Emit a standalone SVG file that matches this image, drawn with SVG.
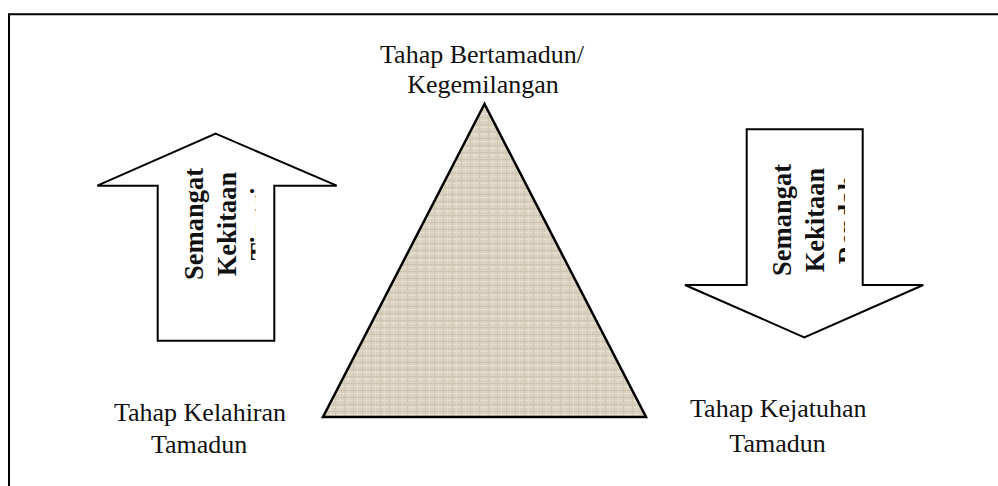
<svg xmlns="http://www.w3.org/2000/svg" width="998" height="486" viewBox="0 0 998 486">
<style>
.lbl{font-family:"Liberation Serif","Times New Roman",serif;font-size:26px;fill:#111;text-anchor:middle}
.arrtxt{font-family:"Liberation Serif","Times New Roman",serif;font-size:26.5px;font-weight:bold;fill:#111;text-anchor:middle}
.arrow{fill:#fff;stroke:#000;stroke-width:2;stroke-linejoin:miter}
</style>
<defs>
<pattern id="linen" width="9" height="7" patternUnits="userSpaceOnUse">
<rect width="9" height="7" fill="#dad1c0"/>
<rect x="0" y="1" width="9" height="1" fill="#e6e0d3"/>
<rect x="6" y="0" width="1" height="7" fill="#e4ddcf"/>
<rect x="0" y="5" width="9" height="1" fill="#cdc3af"/>
<rect x="2" y="0" width="1" height="7" fill="#d0c6b3"/>
</pattern>
<clipPath id="clipUp"><rect x="150" y="140" width="105.5" height="210"/></clipPath>
<clipPath id="clipDown"><rect x="740" y="125" width="105" height="210"/></clipPath>
</defs>
<rect width="998" height="486" fill="#fff"/>
<g id="frame">
<path d="M9 486 V14.3 H998" fill="none" stroke="#000" stroke-width="2"/>
</g>
<g id="pyramid">
<polygon points="484.5,104 323,417 646,417" fill="url(#linen)" stroke="#000" stroke-width="2.5" stroke-linejoin="miter"/>
</g>
<g id="label-top">
<text class="lbl" x="482" y="63.3">Tahap Bertamadun/</text>
<text class="lbl" x="483" y="93.3">Kegemilangan</text>
</g>
<g id="label-birth">
<text class="lbl" x="200" y="420.7">Tahap Kelahiran</text>
<text class="lbl" x="199.2" y="453.3">Tamadun</text>
</g>
<g id="label-fall">
<text class="lbl" x="778.3" y="416.7">Tahap Kejatuhan</text>
<text class="lbl" x="777.5" y="451.7">Tamadun</text>
</g>
<g id="arrow-up">
<polygon class="arrow" points="215.7,133.7 336.7,185.7 274.3,185.7 274.3,340.7 157.7,340.7 157.7,185.7 97.3,185.7"/>
<g clip-path="url(#clipUp)">
<text class="arrtxt" transform="translate(202.5 224) rotate(-90)"><tspan x="0" y="0">Semangat</tspan><tspan x="0" y="33.3">Kekitaan</tspan><tspan x="0" y="66.6">Tinggi</tspan></text>
</g>
</g>
<g id="arrow-down">
<polygon class="arrow" points="746.7,129.3 862.7,129.3 862.7,285 923.3,285 804.3,337.3 685,285 746.7,285"/>
<g clip-path="url(#clipDown)">
<text class="arrtxt" transform="translate(791 220) rotate(-90)"><tspan x="0" y="0">Semangat</tspan><tspan x="0" y="33">Kekitaan</tspan><tspan x="0" y="66">Rendah</tspan></text>
</g>
</g>
<g id="connectors"></g>
</svg>
